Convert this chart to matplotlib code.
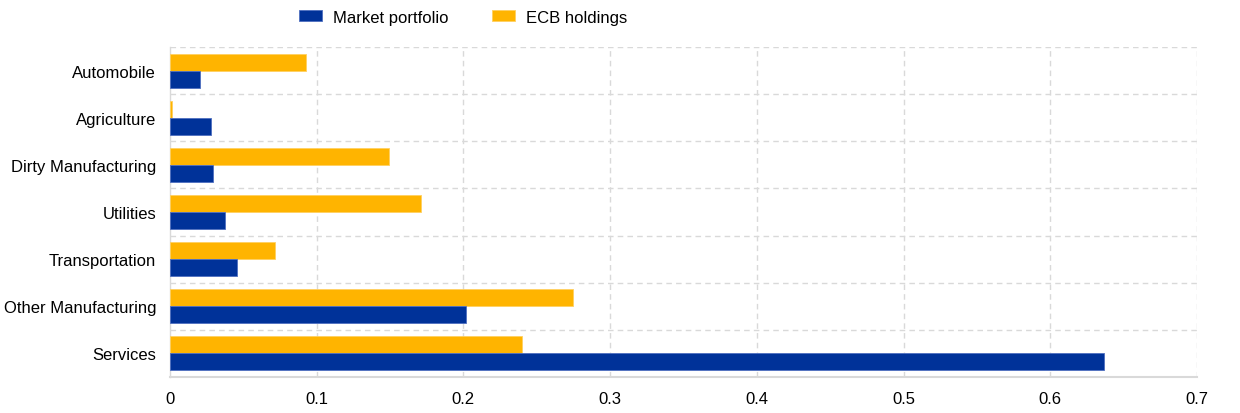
import matplotlib
matplotlib.use("Agg")
import matplotlib.pyplot as plt
import numpy as np

plt.rcParams['font.family'] = ['Liberation Sans', 'DejaVu Sans']

categories = ["Automobile", "Agriculture", "Dirty Manufacturing", "Utilities",
              "Transportation", "Other Manufacturing", "Services"]
market = [0.0202, 0.0277, 0.0291, 0.0375, 0.0455, 0.2018, 0.6367]
ecb = [0.0927, 0.0015, 0.149, 0.1709, 0.0714, 0.2745, 0.2397]
xticks = [0, 0.1, 0.2, 0.3, 0.4, 0.5, 0.6, 0.7]
xticklabels = ["0", "0.1", "0.2", "0.3", "0.4", "0.5", "0.6", "0.7"]

blue = "#003299"
yellow = "#FFB400"

fig = plt.figure(figsize=(12.4, 4.14), dpi=100)
ax = fig.add_axes([170/1240, 1-378/414, 1027/1240, 330/414])

n = len(categories)
y = np.arange(n)
h = 0.36
ax.barh(y - h/2, ecb, height=h, color=yellow, edgecolor="#FFD060", linewidth=0.6, label="ECB holdings", zorder=3)
ax.barh(y + h/2, market, height=h, color=blue, edgecolor="#4F6FC0", linewidth=0.6, label="Market portfolio", zorder=3)

ax.set_ylim(n - 0.5, -0.5)
ax.set_xlim(0, 0.7)
ax.set_yticks(y)
ax.set_yticklabels(categories, fontsize=12)
ax.set_xticks(xticks)
ax.set_xticklabels(xticklabels, fontsize=12)
ax.tick_params(axis='y', length=0, pad=10)
ax.tick_params(axis='x', length=0, pad=10)

for b in np.arange(-0.5, n - 0.4, 1.0):
    if b < n - 0.5:
        ax.axhline(b, color="#D9D9D9", linestyle=(0, (4, 3)), linewidth=1, zorder=1)
for xt in xticks[1:]:
    ax.axvline(xt, color="#D9D9D9", linestyle=(0, (4, 3)), linewidth=1, zorder=1)

for s in ["top", "right"]:
    ax.spines[s].set_visible(False)
ax.spines["left"].set_color("#D9D9D9")
ax.spines["bottom"].set_color("#D9D9D9")
ax.spines["left"].set_linewidth(1)
ax.spines["bottom"].set_linewidth(1.5)

handles, labels = ax.get_legend_handles_labels()
leg = fig.legend([handles[1], handles[0]], [labels[1], labels[0]],
                 loc="center left", bbox_to_anchor=(284/1240, 1-18/414), ncol=2,
                 frameon=False, fontsize=12, handlelength=1.38, handleheight=0.62,
                 columnspacing=2.6, handletextpad=0.66)

fig.savefig("out.png", dpi=100)
